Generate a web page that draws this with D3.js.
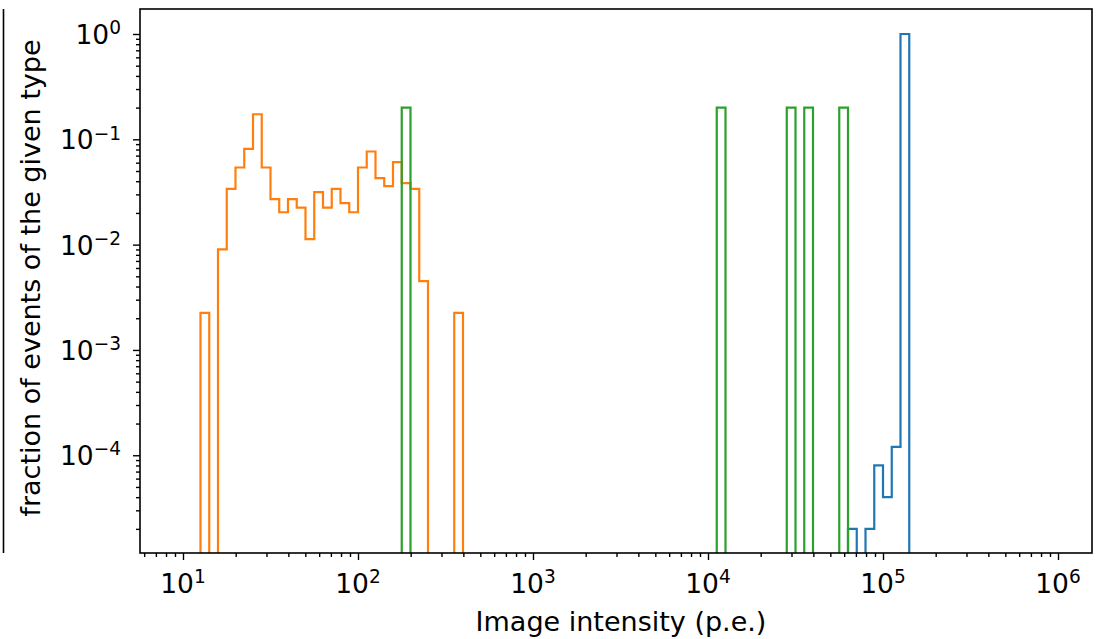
<!DOCTYPE html>
<html>
<head>
<meta charset="utf-8">
<script src="https://cdn.jsdelivr.net/npm/d3@7"></script>
<style>
  html, body { margin: 0; padding: 0; background: #fff; }
  svg text { font-family: "DejaVu Sans", sans-serif; fill: #000; }
</style>
</head>
<body>
<div id="chart"></div>
<script>
// ---- data (fractions of events per log bin, bin width = 0.05 decade) ----
var BIN = 0.05;

// lower bin edges given as log10(intensity)
var blueBinLo = [4.80, 4.85, 4.90, 4.95, 5.00, 5.05, 5.10];
var blueFrac  = [2e-5, 0, 2e-5, 8e-5, 4e-5, 1.2e-4, 0.9997];

var orangeBinLo = [1.10, 1.15, 1.20, 1.25, 1.30, 1.35, 1.40, 1.45, 1.50, 1.55,
                   1.60, 1.65, 1.70, 1.75, 1.80, 1.85, 1.90, 1.95, 2.00, 2.05,
                   2.10, 2.15, 2.20, 2.25, 2.30, 2.35, 2.40, 2.45, 2.50, 2.55];
var orangeFrac  = [0.00225, 0, 0.0090, 0.0338, 0.054, 0.081, 0.173, 0.054, 0.027, 0.0203,
                   0.027, 0.0225, 0.0113, 0.0315, 0.0225, 0.0338, 0.0248, 0.0203, 0.054, 0.0766,
                   0.0428, 0.036, 0.0608, 0.0383, 0.0338, 0.0045, 0, 0, 0, 0.00225];

var greenBinLo = [2.25, 4.05, 4.45, 4.55, 4.75];
var greenFrac  = [0.2, 0.2, 0.2, 0.2, 0.2];

var seriesColors = ["#1f77b4", "#ff7f0e", "#2ca02c"];

var xMajor = [1e1, 1e2, 1e3, 1e4, 1e5, 1e6];
var yMajor = [1e-4, 1e-3, 1e-2, 1e-1, 1e0];

var xLabelText = "Image intensity (p.e.)";
var yLabelText = "fraction of events of the given type";

// ---- layout ----
var W = 1098, H = 639;
var m = { left: 140, right: 1092, top: 9, bottom: 553 };
var FS = 26.5;     // tick labels
var FS_T = 27;     // axis titles

var svg = d3.select("#chart").append("svg")
    .attr("width", W)
    .attr("height", H);

svg.append("rect").attr("width", W).attr("height", H).attr("fill", "#fff");

var x = d3.scaleLog().domain([5.68, 1.564e6]).range([m.left, m.right]);
var y = d3.scaleLog().domain([1.18e-5, 1.727]).range([m.bottom, m.top]);

// edge of a neighbouring panel that sticks into the picture on the left
svg.append("line")
    .attr("x1", 3.5).attr("x2", 3.5)
    .attr("y1", m.top).attr("y2", m.bottom)
    .attr("stroke", "#000").attr("stroke-width", 1.6);

svg.append("clipPath").attr("id", "plotclip")
  .append("rect")
    .attr("x", m.left).attr("y", m.top)
    .attr("width", m.right - m.left).attr("height", m.bottom - m.top);

// Build a step outline like matplotlib's histtype='step'; empty bins fall off the bottom.
function stepPoints(binLo, frac) {
    var floor = m.bottom + 40;
    var pts = [];
    var lastHi = null;
    binLo.forEach(function(lo, i) {
        var hi = lo + BIN;
        var yy = frac[i] > 0 ? y(frac[i]) : floor;
        if (lastHi === null || Math.abs(lastHi - lo) > 1e-6) {
            if (lastHi !== null) pts.push([x(Math.pow(10, lastHi)), floor]);
            pts.push([x(Math.pow(10, lo)), floor]);
        }
        pts.push([x(Math.pow(10, lo)), yy]);
        pts.push([x(Math.pow(10, hi)), yy]);
        lastHi = hi;
    });
    pts.push([x(Math.pow(10, lastHi)), floor]);
    return pts;
}

var series = [
    { lo: blueBinLo, v: blueFrac },
    { lo: orangeBinLo, v: orangeFrac },
    { lo: greenBinLo, v: greenFrac }
];

var plot = svg.append("g").attr("clip-path", "url(#plotclip)");
var line = d3.line();

plot.selectAll("path.hist")
    .data(series)
  .enter().append("path")
    .attr("class", "hist")
    .attr("d", function(d) { return line(stepPoints(d.lo, d.v)); })
    .attr("fill", "none")
    .attr("stroke", function(d, i) { return seriesColors[i]; })
    .attr("stroke-width", 2.2)
    .attr("stroke-linejoin", "miter");

// minor ticks 2..9 x 10^n inside the domain
function minorTicks(scale, n0, n1) {
    var out = [];
    var dom = scale.domain();
    for (var n = n0; n <= n1; n++) {
        for (var k = 2; k <= 9; k++) {
            var v = k * Math.pow(10, n);
            if (v >= dom[0] && v <= dom[1]) out.push(v);
        }
    }
    return out;
}

// ---- axes ----
var xAxisMinor = d3.axisBottom(x).tickValues(minorTicks(x, 0, 6)).tickSize(4).tickFormat("");
var xAxisMajor = d3.axisBottom(x).tickValues(xMajor).tickSize(7).tickFormat("");
var yAxisMinor = d3.axisLeft(y).tickValues(minorTicks(y, -5, 0)).tickSize(4).tickFormat("");
var yAxisMajor = d3.axisLeft(y).tickValues(yMajor).tickSize(7).tickFormat("");

var gx = svg.append("g").attr("transform", "translate(0," + m.bottom + ")");
gx.append("g").call(xAxisMinor);
gx.append("g").call(xAxisMajor);
var gy = svg.append("g").attr("transform", "translate(" + m.left + ",0)");
gy.append("g").call(yAxisMinor);
gy.append("g").call(yAxisMajor);

svg.selectAll(".domain").remove();
svg.selectAll(".tick line").attr("stroke", "#000").attr("stroke-width", 1.4);

// tick labels as 10 with a superscript exponent
function expLabel(sel, v) {
    var e = Math.round(Math.log10(v));
    sel.append("tspan").text("10");
    sel.append("tspan")
        .attr("dy", -FS * 0.37)
        .attr("font-size", FS * 0.7)
        .text(e < 0 ? "\u2212" + (-e) : String(e));
}

svg.append("g").selectAll("text")
    .data(xMajor)
  .enter().append("text")
    .attr("x", function(d) { return x(d); })
    .attr("y", 593)
    .attr("text-anchor", "middle")
    .attr("font-size", FS)
    .each(function(d) { expLabel(d3.select(this), d); });

svg.append("g").selectAll("text")
    .data(yMajor)
  .enter().append("text")
    .attr("x", 121)
    .attr("y", function(d) { return y(d) + 10; })
    .attr("text-anchor", "end")
    .attr("font-size", FS)
    .each(function(d) { expLabel(d3.select(this), d); });

// frame
svg.append("rect")
    .attr("x", m.left).attr("y", m.top)
    .attr("width", m.right - m.left).attr("height", m.bottom - m.top)
    .attr("fill", "none").attr("stroke", "#000").attr("stroke-width", 1.6);

// axis titles
svg.append("text")
    .attr("x", (m.left + m.right) / 2 + 5)
    .attr("y", 631)
    .attr("text-anchor", "middle")
    .attr("font-size", FS_T)
    .text(xLabelText);

svg.append("text")
    .attr("transform", "translate(40,278) rotate(-90)")
    .attr("text-anchor", "middle")
    .attr("font-size", FS_T)
    .text(yLabelText);
</script>
</body>
</html>
